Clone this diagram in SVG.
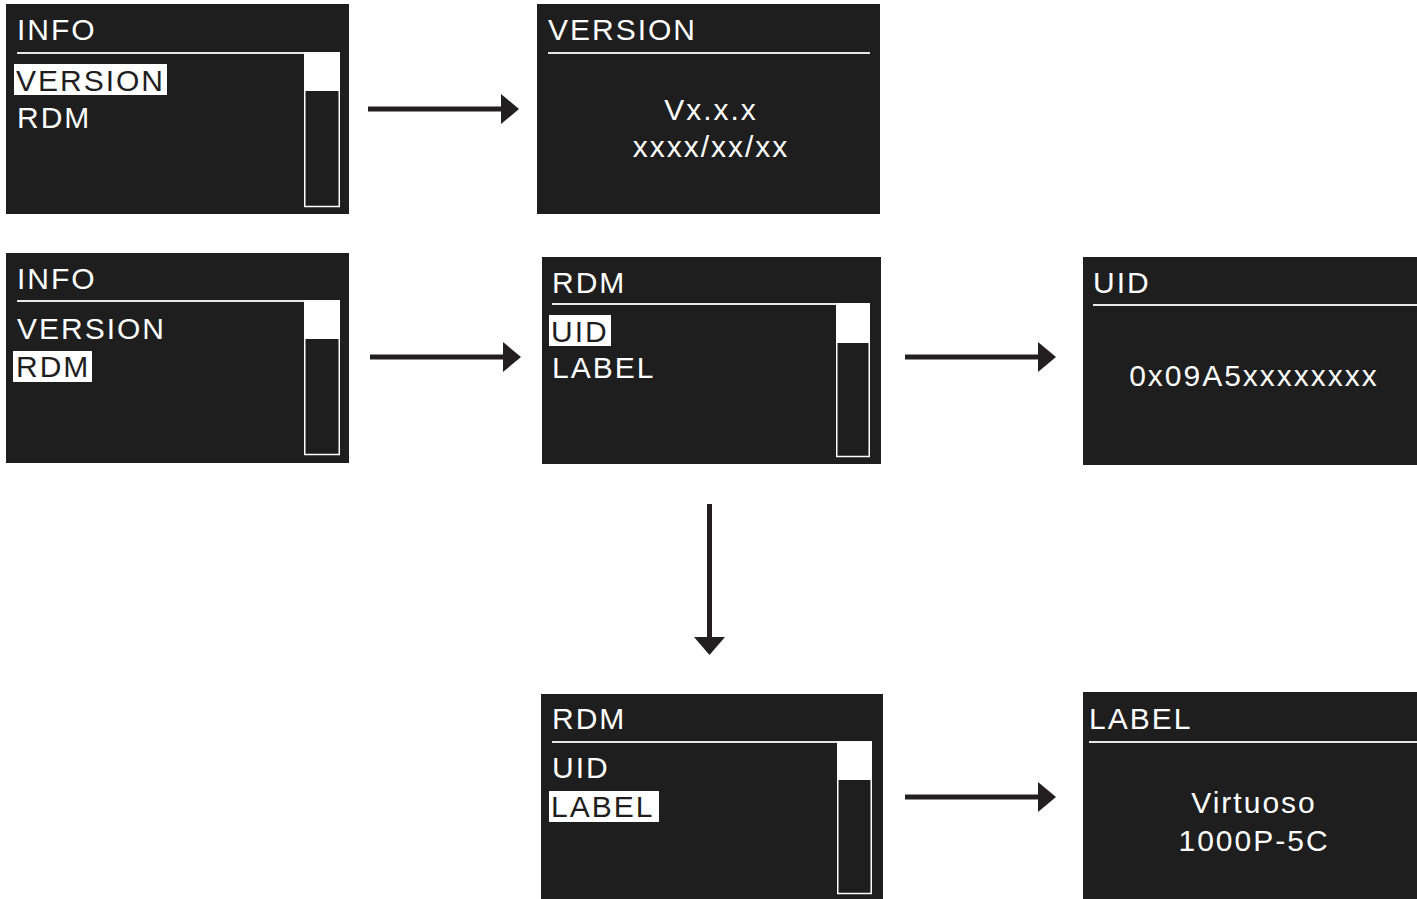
<svg xmlns="http://www.w3.org/2000/svg" width="1417" height="899" viewBox="0 0 1417 899">
<defs>
<style>
.scr{fill:#1e1e1e}
.t{font-family:"Liberation Sans",Arial,sans-serif;font-size:30px;letter-spacing:2px;fill:#ffffff}
.ts{font-family:"Liberation Sans",Arial,sans-serif;font-size:30px;letter-spacing:2px;fill:#1e1e1e}
.c{text-anchor:middle}
.hl{stroke:#e6e6e6;stroke-width:2}
.hi{fill:#ffffff}
.sb{fill:none;stroke:#ffffff;stroke-width:1.5}
.conn{stroke:#231f20;stroke-width:5;fill:none}
.head{fill:#231f20}
</style>
</defs>
<rect width="1417" height="899" fill="#ffffff"/>

<g id="info-version">
<rect class="scr" x="6" y="4" width="343" height="210"/>
<text class="t" x="17" y="40">INFO</text>
<line class="hl" x1="17" y1="53" x2="340" y2="53"/>
<rect class="hi" x="14" y="64" width="153" height="31"/>
<text class="ts" x="16" y="91">VERSION</text>
<text class="t" x="17" y="128">RDM</text>
<rect class="hi" x="304" y="53" width="36" height="38"/>
<rect class="sb" x="304.75" y="53" width="34.5" height="153.5"/>
</g>

<g id="version">
<rect class="scr" x="537" y="4" width="343" height="210"/>
<text class="t" x="548" y="40">VERSION</text>
<line class="hl" x1="548" y1="53" x2="870" y2="53"/>
<text class="t c" x="711" y="120">Vx.x.x</text>
<text class="t c" x="711" y="157">xxxx/xx/xx</text>
</g>

<g id="info-rdm">
<rect class="scr" x="6" y="253" width="343" height="210"/>
<text class="t" x="17" y="289">INFO</text>
<line class="hl" x1="17" y1="301" x2="340" y2="301"/>
<text class="t" x="17" y="339">VERSION</text>
<rect class="hi" x="13" y="351" width="79" height="31"/>
<text class="ts" x="16" y="377">RDM</text>
<rect class="hi" x="304" y="301" width="36" height="38"/>
<rect class="sb" x="304.75" y="301" width="34.5" height="153.5"/>
</g>

<g id="rdm-uid">
<rect class="scr" x="542" y="257" width="339" height="207"/>
<text class="t" x="552" y="293">RDM</text>
<line class="hl" x1="552" y1="304" x2="870" y2="304"/>
<rect class="hi" x="549" y="315" width="62" height="31"/>
<text class="ts" x="551" y="342">UID</text>
<text class="t" x="552" y="378">LABEL</text>
<rect class="hi" x="836" y="304" width="34" height="39"/>
<rect class="sb" x="836.75" y="304" width="32.5" height="152.5"/>
</g>

<g id="uid">
<rect class="scr" x="1083" y="257" width="334" height="208"/>
<text class="t" x="1093" y="293">UID</text>
<line class="hl" x1="1093" y1="305" x2="1417" y2="305"/>
<text class="t c" x="1254" y="386">0x09A5xxxxxxxx</text>
</g>

<g id="rdm-label">
<rect class="scr" x="541" y="694" width="342" height="205"/>
<text class="t" x="552" y="729">RDM</text>
<line class="hl" x1="552" y1="742" x2="872" y2="742"/>
<text class="t" x="552" y="778">UID</text>
<rect class="hi" x="549" y="791" width="110" height="31"/>
<text class="ts" x="551" y="817">LABEL</text>
<rect class="hi" x="837" y="742" width="35" height="38"/>
<rect class="sb" x="837.75" y="742" width="33.5" height="151.5"/>
</g>

<g id="label">
<rect class="scr" x="1083" y="692" width="334" height="207"/>
<text class="t" x="1089" y="729">LABEL</text>
<line class="hl" x1="1089" y1="742" x2="1417" y2="742"/>
<text class="t c" x="1254" y="813">Virtuoso</text>
<text class="t c" x="1254" y="851">1000P-5C</text>
</g>

<g id="connectors">
<line class="conn" x1="368" y1="109" x2="503" y2="109"/>
<polygon class="head" points="501,94 519,109 501,124"/>
<line class="conn" x1="370" y1="357" x2="505" y2="357"/>
<polygon class="head" points="503,342 521,357 503,372"/>
<line class="conn" x1="905" y1="357" x2="1040" y2="357"/>
<polygon class="head" points="1038,342 1056,357 1038,372"/>
<line class="conn" x1="905" y1="797" x2="1040" y2="797"/>
<polygon class="head" points="1038,782 1056,797 1038,812"/>
<line class="conn" x1="709.5" y1="504" x2="709.5" y2="640"/>
<polygon class="head" points="694,637 725,637 709.5,655"/>
</g>
</svg>
